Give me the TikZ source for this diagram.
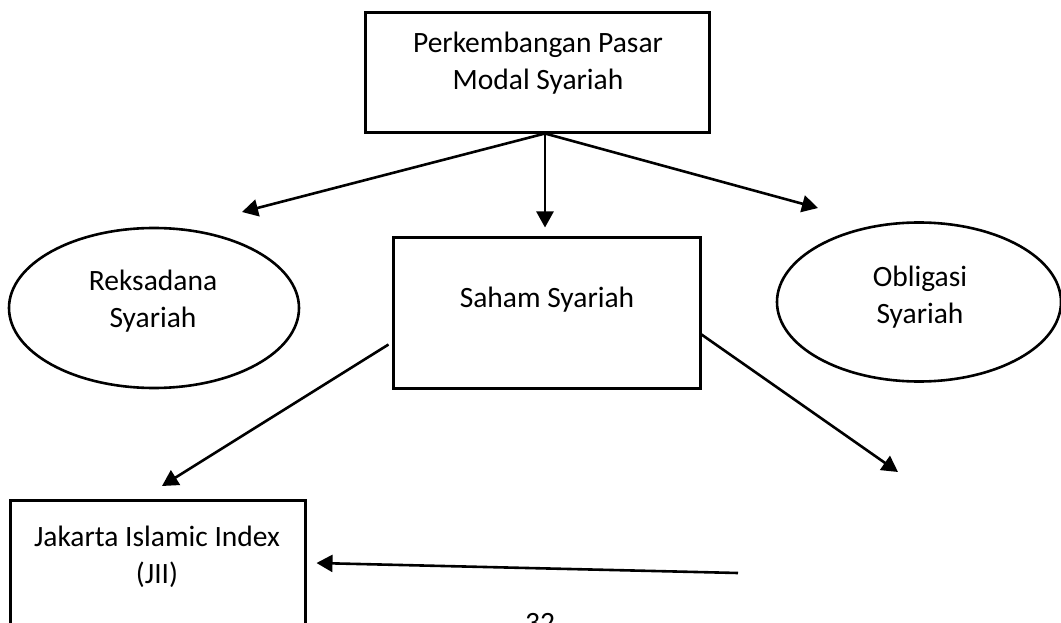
\documentclass[tikz,border=0pt]{standalone}
\usepackage{fontspec}
\setmainfont{Carlito}
\usetikzlibrary{arrows.meta,positioning,shapes.geometric,calc}

\begin{document}
\begin{tikzpicture}[x=1pt,y=-1pt,
        >={Triangle[length=16pt,width=17pt]},
        kotak/.style={draw,line width=3pt,rectangle},
        elips/.style={draw,line width=2.6pt,ellipse},
        teks/.style={align=center,font=\fontsize{29.5}{37}\selectfont},
        panah/.style={->,line width=2.6pt}]
    \useasboundingbox (0,0) rectangle (1061,623);

    % Define the boxes and ellipses
    \node[kotak,minimum width=344,minimum height=120] (pasar) at (537,73) {};
    \node[kotak,minimum width=307,minimum height=151] (saham) at (546.5,312.5) {};
    \node[elips,minimum width=290,minimum height=160] (reksa) at (154,308) {};
    \node[elips,minimum width=284,minimum height=159] (obli) at (919,302) {};
    \node[kotak,minimum width=295,minimum height=180] (jii) at (157.5,590) {};

    % Texts inside the shapes
    \node[teks] (pasarteks) at (538,63) {Perkembangan Pasar\\Modal Syariah};
    \node[teks] (sahamteks) at (547,300) {Saham Syariah};
    \node[teks] (reksateks) at (153,301) {Reksadana\\Syariah};
    \node[teks] (obliteks) at (920,297) {Obligasi\\Syariah};
    \node[teks] (jiiteks) at (157,557) {Jakarta Islamic Index\\(JII)};
    \node[teks,anchor=base] (hal) at (540,632) {32};

    % Free ends of the arrows
    \coordinate (pangkal) at ($(pasar.south)+(8,-1)$);
    \coordinate (ujungtengah) at ($(pangkal |- saham.north)+(0,-8)$);
    \coordinate (ujungkiri) at (242,212);
    \coordinate (ujungkanan) at (818,208);
    \coordinate (sahamkiri) at ($(saham.west)+(-3,32)$);
    \coordinate (sahamkanan) at ($(saham.east)+(0,22)$);
    \coordinate (ujungjii) at (162,486);
    \coordinate (ujungbawah) at (898,472);
    \coordinate (ekor) at (738,573);

    % Connect with arrows
    \draw[panah] (pangkal) -- (ujungkiri);
    \draw[panah] (pangkal) -- (ujungtengah);
    \draw[panah] (pangkal) -- (ujungkanan);
    \draw[panah] (sahamkiri) -- (ujungjii);
    \draw[panah] (sahamkanan) -- (ujungbawah);
    \draw[panah] (ekor) -- ($(jii.east |- ekor)+(10,-10)$);
\end{tikzpicture}
\end{document}
